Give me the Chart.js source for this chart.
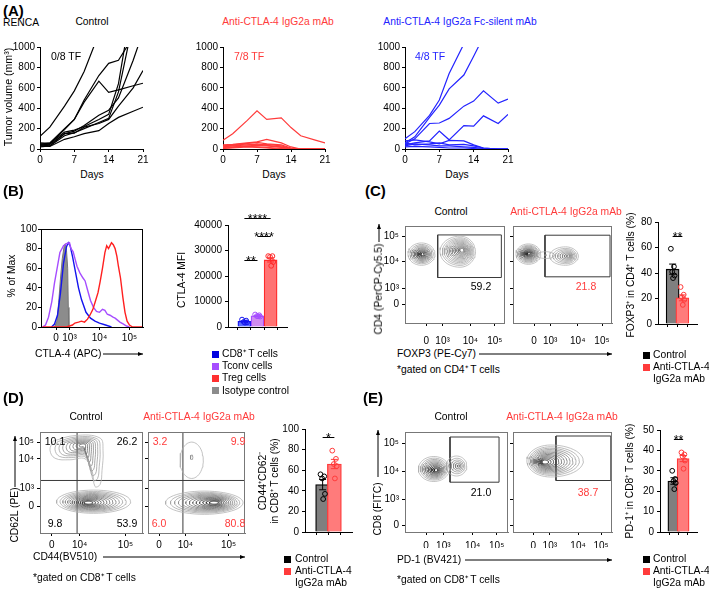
<!DOCTYPE html>
<html><head><meta charset="utf-8">
<script src="https://cdn.jsdelivr.net/npm/chart.js@4.4.1/dist/chart.umd.min.js"></script>
<style>
body{margin:0;background:#fff;}
#root{position:relative;width:709px;height:590px;overflow:hidden;font-family:"Liberation Sans",Arial,sans-serif;color:#000;background:#fff;}
.t{position:absolute;white-space:nowrap;line-height:1;font-size:10.3px;}
.sq{position:absolute;width:7px;height:7px;}
canvas{position:absolute;}
svg{position:absolute;left:0;top:0;}
</style></head><body><div id="root"></div>
<script>
// ---------------- DATA ----------------
// (A) tumour growth, RENCA
const days = [0, 2, 5, 7, 9, 12, 14, 16, 19, 21];
const dayTicks = [0, 7, 14, 21];
const volTicks = [0, 200, 400, 600, 800, 1000];
const ctrlTumor = [
  [125, 215, 420, 570, 760, 1130],
  [35, 50, 190, 290, 480, 720, 840, 870, 1100],
  [45, 60, 200, 290, 460, 665, 555, 580, 620, 645],
  [50, 45, 150, 175, 230, 330, 380, 500, 870, 1150],
  [20, 30, 130, 160, 200, 260, 300, 560, 1250],
  [40, 30, 150, 155, 215, 250, 290, 420, 600, 770],
  [30, 25, 95, 120, 150, 180, 250, 310, 370, 410],
  [60, 55, 165, 185, 220, 290, 340, 640, 1500]
];
const antiTumor = [
  [85, 150, 280, 375, 290, 305, 210, 130, 87, 60],
  [40, 45, 60, 70, 95, 60, 20, 0, 0, 0],
  [30, 40, 55, 65, 50, 40, 10, 0, 0, 0],
  [25, 35, 50, 40, 45, 30, 5, 0, 0, 0],
  [20, 30, 40, 50, 35, 20, 0, 0, 0, 0],
  [15, 20, 30, 35, 30, 15, 0, 0, 0, 0],
  [10, 15, 25, 20, 15, 5, 0, 0, 0, 0],
  [5, 10, 20, 15, 10, 0, 0, 0, 0, 0]
];
const fcsTumor = [
  [100, 170, 330, 480, 740, 1030],
  [60, 120, 310, 430, 590, 725, 910, 1100],
  [50, 100, 250, 255, 300, 420, 470, 570, 450, 490],
  [40, 60, 80, 175, 90, 230, 225, 325, 250, 340],
  [80, 90, 70, 50, 85, 80, 40, 10, 0, 0],
  [60, 40, 50, 60, 40, 45, 30, 10, 0, 0],
  [30, 50, 40, 30, 30, 20, 15, 5, 0, 0],
  [20, 25, 20, 15, 10, 10, 5, 0, 0, 0]
];
const tfText = ['0/8 TF', '7/8 TF', '4/8 TF'];

// (B) CTLA-4 histogram (x in log-decade display units)
const histTicks = [2.55, 3, 4, 5];
const histTickLabels = ['0', '10³', '10⁴', '10⁵'];
const pctTicks = [0, 20, 40, 60, 80, 100];
const isoX = [2.5, 2.58, 2.64, 2.7, 2.76, 2.82, 2.86, 2.9, 2.94, 2.96, 2.98];
const isoY = [0, 6, 25, 50, 70, 82, 85, 78, 60, 20, 0];
const cd8X = [2.4, 2.5, 2.6, 2.7, 2.8, 2.9, 2.96, 3.02, 3.1, 3.2, 3.3, 3.4, 3.55, 3.7, 3.85, 4.0, 4.2, 4.4];
const cd8Y = [0, 3, 12, 35, 65, 82, 86, 83, 72, 56, 40, 28, 15, 9, 6, 4, 2, 0];
const tconvX = [2.1, 2.2, 2.3, 2.41, 2.5, 2.6, 2.68, 2.8, 2.9, 3.0, 3.05, 3.12, 3.18, 3.25, 3.35, 3.45, 3.52, 3.6, 3.7, 3.8, 3.9, 4.0, 4.1, 4.18, 4.26, 4.35, 4.45, 4.52, 4.6, 4.68, 4.8, 4.9, 5.0];
const tconvY = [0, 2, 10, 26, 45, 62, 76, 83, 85, 86, 80, 77, 70, 62, 55, 50, 47, 38, 27, 20, 16, 15, 18, 17, 13, 12, 10, 9, 7, 5, 3, 1, 0];
const tregX = [2.1, 2.9, 3.1, 3.18, 3.3, 3.4, 3.5, 3.6, 3.68, 3.78, 3.85, 3.95, 4.02, 4.1, 4.18, 4.24, 4.3, 4.35, 4.4, 4.46, 4.52, 4.58, 4.63, 4.7, 4.78, 4.85, 4.92, 5.0, 5.1, 5.45];
const tregY = [0, 0, 2, 4, 5, 6, 5, 8, 12, 18, 25, 35, 46, 60, 76, 83, 80, 83, 86, 84, 80, 72, 62, 50, 30, 15, 6, 2, 0, 0];

// (B) CTLA-4 MFI
const mfiCats = ['CD8⁺ T cells', 'Tconv cells', 'Treg cells', 'Isotype control'];
const mfiTicks = [0, 10000, 20000, 30000, 40000];
const mfiMean = [2200, 4400, 26300];
const mfiSem = [250, 160, 800];
const mfiPts = [[2900, 2500, 2000, 1800, 1700], [4900, 4600, 4300, 4100, 4200], [27800, 27800, 27500, 25500, 24000]];

// groups for C/D/E
const groups = ['Control', 'Anti-CTLA-4 IgG2a mAb'];
// (C) FOXP3
const foxp3Ticks = [21.3, 37.6, 65.4, 89.9];
const cd4Ticks = [19, 36, 63.3, 89];
const decLabels = ['0', '10³', '10⁴', '10⁵'];
const foxp3Gates = [[32.7, 96.4, 46.9, 90.8], [32.3, 98, 47.6, 90.5]];
const foxp3GateText = ['59.2', '21.8'];
const foxp3PctTicks = [0, 20, 40, 60, 80];
const foxp3Mean = [43, 20.5];
const foxp3Sem = [4, 2.3];
const foxp3Pts = [[59, 45, 41, 38, 36], [29, 23, 21, 19, 15]];
// (D) CD44 / CD62L
const cd44Ticks = [11.5, 38.5, 83];
const cd44Labels = ['0', '10⁴', '10⁵'];
const cd62Ticks = [26.5, 44, 73.5, 90];
const cd44Quad = [36, 52];
const cd44QuadText = [['10.1', '26.2', '9.8', '53.9'], ['3.2', '9.9', '6.0', '80.8']];
const cd44PctTicks = [0, 20, 40, 60, 80, 100];
const cd44Mean = [46, 66];
const cd44Sem = [5, 4.5];
const cd44Pts = [[56, 54, 52, 37, 32], [79, 71, 66, 64, 52]];
// (E) PD-1
const pd1Ticks = [20.4, 37.2, 65.7, 89];
const cd8Ticks = [7, 32.4, 60.4, 88.8];
const pd1Gates = [[43.7, 91.3, 49.8, 95], [43.4, 98.8, 51.5, 96]];
const pd1GateText = ['21.0', '38.7'];
const pd1PctTicks = [0, 10, 20, 30, 40, 50];
const pd1Mean = [25, 36];
const pd1Sem = [1.6, 1.5];
const pd1Pts = [[30, 26, 25, 24, 21], [39, 38, 37, 35, 31]];

// contour populations (axis channel units 0-100)
const foxp3Pops = [
  [{cx:16.5, cy:71, rx:13.5, ry:11.5, ix:17.5, iy:71, n:10, g1:30},
   {cx:55, cy:73.5, rx:15.5, rxL:20, ry:16, ix:57, iy:75, n:13, g1:110}],
  [{cx:15.5, cy:71, rx:12.5, ry:10.5, ix:16, iy:71.5, n:11, g1:30},
   {cx:33, cy:70, rx:9, ry:3.5, ix:33, iy:70, n:2, g1:150},
   {cx:53, cy:69, rx:13, rxL:16, ry:9.5, ix:56, iy:69, n:8, g1:110}]
];
const cd44UpperOutline = [[12.6, 91], [34, 96.5], [58.3, 94], [61.2, 81.4], [60.2, 61.8], [58.3, 48], [53.4, 46], [50.5, 61.8], [43.7, 73.5], [29, 72.5], [14.6, 74], [9.7, 82]];
const cd44Pops = [
  [{cx:52, cy:31, rx:36, ry:11.5, ix:47, iy:30, n:13, g1:40},
   {poly: cd44UpperOutline, ix:42, iy:87, n:9, g1:80}],
  [{cx:58, cy:30, rx:40, ry:11.5, ix:68, iy:30, n:13, g1:40},
   {cx:45, cy:72, rx:12, ry:18, ix:45, iy:75, n:2, g1:140}]
];
const pd1Pops = [
  [{cx:28, cy:63, rx:15, ry:12.5, ix:30, iy:62, n:11, g1:30},
   {cx:50, cy:66, rx:10, ry:10, ix:52, iy:66, n:6, g1:110}],
  [{cx:38, cy:71, rx:33, rxL:24, ry:16, ix:32, iy:70, n:13, g1:40}]
];

// ---------------- STYLE / HELPERS ----------------
const RED = '#ff3b3b', BLUE = '#2323ff', PURP = '#a64dff', GRAY = '#8c8c8c';
const FF = '"Liberation Sans", Arial, sans-serif';
const TICK = 10;
Chart.defaults.font.family = FF;
Chart.defaults.font.size = TICK;
Chart.defaults.color = '#000';
Chart.defaults.animation = false;
Chart.defaults.events = [];
const root = document.getElementById('root');
const decoMap = new Map();

Chart.register({
  id: 'deco',
  afterDatasetsDraw(chart) {
    const d = decoMap.get(chart.canvas); if (!d) return;
    const ctx = chart.ctx, a = chart.chartArea, xs = chart.scales.x, ys = chart.scales.y;
    ctx.save();
    if (d.frame) {
      ctx.strokeStyle = d.frame; ctx.lineWidth = 1;
      const l = Math.round(a.left) + 0.5, t = Math.round(a.top) + 0.5, r = Math.round(a.right) - 0.5, b = Math.round(a.bottom) + 0.5;
      ctx.strokeRect(l, t, r - l, b - t);
    }
    (d.err || []).forEach(e => {
      const x = xs.getPixelForValue(e.x), y1 = ys.getPixelForValue(e.m - e.s), y2 = ys.getPixelForValue(e.m + e.s);
      ctx.strokeStyle = e.c; ctx.lineWidth = 1;
      ctx.beginPath(); ctx.moveTo(x, y1); ctx.lineTo(x, y2);
      ctx.moveTo(x - 3.5, y2); ctx.lineTo(x + 3.5, y2);
      ctx.moveTo(x - 3.5, y1); ctx.lineTo(x + 3.5, y1); ctx.stroke();
    });
    (d.sig || []).forEach(s => {
      const x1 = xs.getPixelForValue(s.a), x2 = xs.getPixelForValue(s.b), y = Math.round(ys.getPixelForValue(s.y)) + 0.5;
      ctx.strokeStyle = '#000'; ctx.lineWidth = 1;
      ctx.beginPath(); ctx.moveTo(x1, y); ctx.lineTo(x2, y); ctx.stroke();
      ctx.fillStyle = '#000'; ctx.font = '12.5px ' + FF; ctx.textAlign = 'center'; ctx.textBaseline = 'alphabetic';
      ctx.fillText(s.t, (x1 + x2) / 2, y + 4.5);
    });
    ctx.restore();
  }
});

function T(s, x, y, o = {}) {
  const d = document.createElement('div');
  d.className = 't'; d.textContent = s;
  d.style.left = x + 'px'; d.style.top = y + 'px';
  let tr = o.a === 'c' ? 'translate(-50%,-50%)' : o.a === 'r' ? 'translate(-100%,-50%)' : 'translate(0,-50%)';
  if (o.rot) tr = 'translate(-50%,-50%) rotate(-90deg)';
  d.style.transform = tr;
  if (o.c) d.style.color = o.c;
  if (o.s) d.style.fontSize = o.s + 'px';
  if (o.b) d.style.fontWeight = 'bold';
  root.appendChild(d);
}
function SQ(x, y, c) {
  const d = document.createElement('div'); d.className = 'sq';
  d.style.left = x + 'px'; d.style.top = (y - 3.5) + 'px'; d.style.background = c; root.appendChild(d);
}
const NS = 'http://www.w3.org/2000/svg';
const svg = document.createElementNS(NS, 'svg');
svg.setAttribute('width', 709); svg.setAttribute('height', 590);
function arrow(x1, y1, x2, y2) {
  const l = document.createElementNS(NS, 'line');
  l.setAttribute('x1', x1); l.setAttribute('y1', y1); l.setAttribute('x2', x2); l.setAttribute('y2', y2);
  l.setAttribute('stroke', '#000'); l.setAttribute('stroke-width', 1); svg.appendChild(l);
  const p = document.createElementNS(NS, 'polygon');
  const dx = Math.sign(x2 - x1), dy = Math.sign(y2 - y1);
  let pts;
  if (dx) pts = `${x2},${y2} ${x2 - 5 * dx},${y2 - 2} ${x2 - 5 * dx},${y2 + 2}`;
  else pts = `${x2},${y2} ${x2 - 2},${y2 - 5 * dy} ${x2 + 2},${y2 - 5 * dy}`;
  p.setAttribute('points', pts); p.setAttribute('fill', '#000'); svg.appendChild(p);
}

function axis(min, max, ticks, labels, o = {}) {
  return {
    type: 'linear', min, max,
    afterBuildTicks: s => { s.ticks = ticks.map(v => ({ value: v })); },
    ticks: { autoSkip: false, maxRotation: 0, minRotation: 0, color: '#000', padding: o.pad ?? 2,
      font: { family: FF, size: o.fs || TICK },
      callback: (v, i) => (labels ? labels[i] : '') },
    grid: { display: true, drawOnChartArea: false, drawTicks: true, tickLength: o.tl ?? 3, color: o.tc || '#000', lineWidth: 1 },
    border: { display: true, color: o.bc || '#000', width: 1 }
  };
}

function mk(box, pad, config, deco) {
  const [x, y, w, h] = box;
  const W = pad[0] + w + pad[2], H = pad[1] + h + pad[3];
  const c = document.createElement('canvas');
  c.width = W; c.height = H;
  c.style.left = (x - pad[0]) + 'px'; c.style.top = (y - pad[1]) + 'px';
  c.style.width = W + 'px'; c.style.height = H + 'px';
  root.appendChild(c);
  if (deco) decoMap.set(c, deco);
  const o = config.options;
  o.responsive = false; o.maintainAspectRatio = false; o.animation = false;
  o.layout = { padding: { left: 0, top: pad[1], right: pad[2], bottom: 0 } };
  o.scales.x.afterFit = s => { s.height = pad[3]; };
  o.scales.y.afterFit = s => { s.width = pad[0]; };
  o.plugins = { legend: { display: false }, tooltip: { enabled: false } };
  return new Chart(c, config);
}

// ---------------- (A) ----------------
function growth(box, series, color) {
  const ds = series.map(v => ({
    data: v.map((y, i) => ({ x: days[i], y })),
    showLine: true, borderColor: color, borderWidth: 1.2, pointRadius: 0, tension: 0
  }));
  mk(box, [34, 8, 10, 16], {
    type: 'scatter', data: { datasets: ds },
    options: { scales: {
      x: axis(0, 21, dayTicks, dayTicks.map(String), { tl: 3, pad: 2 }),
      y: axis(0, 1000, volTicks, volTicks.map(String), { tl: 3, pad: 2 })
    } }
  });
}
growth([40, 47, 103, 102], ctrlTumor, '#000');
growth([223, 47, 102, 102], antiTumor, RED);
growth([405, 47, 103, 102], fcsTumor, BLUE);

T('(A)', 3, 10, { b: 1, s: 15 });
T('RENCA', 3, 23);
T('Control', 92, 22, { a: 'c' });
T('Anti-CTLA-4 IgG2a mAb', 278, 22, { a: 'c', c: RED });
T('Anti-CTLA-4 IgG2a Fc-silent mAb', 460, 22, { a: 'c', c: BLUE });
T(tfText[0], 51, 56, { s: 10.5 });
T(tfText[1], 234, 56, { s: 10.5, c: RED });
T(tfText[2], 415, 56, { s: 10.5, c: BLUE });
T('Days', 92, 175, { a: 'c' });
T('Days', 274, 175, { a: 'c' });
T('Days', 457, 175, { a: 'c' });
T('Tumor volume (mm³)', 8, 97, { rot: 1, s: 10.6 });

// ---------------- (B) histogram ----------------
const hist = (xs, ys) => xs.map((x, i) => ({ x, y: ys[i] }));
mk([41, 229, 102, 98], [30, 8, 10, 16], {
  type: 'scatter',
  data: { datasets: [
    { data: hist(tregX, tregY), showLine: true, borderColor: '#ff2020', borderWidth: 1.4, pointRadius: 0, order: 0 },
    { data: hist(tconvX, tconvY), showLine: true, borderColor: PURP, borderWidth: 1.4, pointRadius: 0, order: 1 },
    { data: hist(cd8X, cd8Y), showLine: true, borderColor: '#1414ee', borderWidth: 1.4, pointRadius: 0, order: 2 },
    { data: hist(isoX, isoY), showLine: true, borderColor: '#777', backgroundColor: GRAY, fill: 'origin', borderWidth: 1, pointRadius: 0, order: 3 }
  ] },
  options: { scales: {
    x: axis(2.05, 5.45, histTicks, histTickLabels, { pad: 2 }),
    y: axis(0, 100, pctTicks, pctTicks.map(String), { pad: 1 })
  } }
}, { frame: '#000' });
T('(B)', 3, 190, { b: 1, s: 15 });
T('% of Max', 12, 276, { rot: 1 });
T('CTLA-4 (APC)', 35, 354);
arrow(103, 354, 143, 354);

// ---------------- bar helper ----------------
const jit = [-0.2, 0.15, -0.05, 0.22, 0.05];
function barChart(box, pad, means, sems, pts, yT, fills, borders, sig, barW, ymax) {
  const n = means.length;
  const ds = [{
    type: 'bar', data: means.map((m, i) => ({ x: i, y: m })),
    backgroundColor: fills, borderColor: borders, borderWidth: 1.3, barThickness: barW, order: 2
  }];
  pts.forEach((p, i) => ds.push({
    type: 'scatter', data: p.map((v, j) => ({ x: i + jit[j] * 0.9, y: v })),
    pointRadius: 2.4, pointBorderWidth: 1, pointBorderColor: borders[i], pointBackgroundColor: 'rgba(0,0,0,0)', order: 0
  }));
  mk(box, pad, {
    type: 'bar', data: { datasets: ds },
    options: { scales: {
      x: axis(-0.5, n - 0.5, means.map((m, i) => i), null, { tl: 3 }),
      y: axis(0, ymax, yT, yT.map(String), { pad: 3 })
    } }
  }, { err: means.map((m, i) => ({ x: i, m, s: sems[i], c: borders[i] })), sig });
}

barChart([228, 225, 59, 103], [45, 24, 8, 8], mfiMean, mfiSem, mfiPts, mfiTicks,
  ['#5a6cff', '#d08cf0', '#ff7373'], ['#1414ee', PURP, '#ff2a2a'],
  [{ a: 0, b: 1, y: 26100, t: '**' }, { a: 1, b: 2, y: 35600, t: '****' }, { a: 0, b: 2, y: 42700, t: '****' }], 13, 40000);
T('CTLA-4 MFI', 182, 280, { rot: 1 });
[['#0000e0', mfiCats[0]], [PURP, mfiCats[1]], ['#ff3030', mfiCats[2]], [GRAY, mfiCats[3]]].forEach((e, i) => {
  SQ(212, 354 + i * 12.2, e[0]); T(e[1], 222, 354 + i * 12.2);
});

// ---------------- flow helpers ----------------
function contours(pop) {
  const sets = [];
  for (let k = 0; k < pop.n; k++) {
    const t = pop.n > 1 ? k / (pop.n - 1) : 0;
    const s = 1 - 0.88 * Math.pow(t, 0.85);
    const pts = [];
    if (pop.poly) {
      pop.poly.forEach(p => pts.push({ x: pop.ix + (p[0] - pop.ix) * s, y: pop.iy + (p[1] - pop.iy) * s }));
      pts.push(pts[0]);
    } else {
      const cx = pop.cx + (pop.ix - pop.cx) * t, cy = pop.cy + (pop.iy - pop.cy) * t;
      for (let j = 0; j <= 48; j++) {
        const a = j / 48 * 2 * Math.PI, c = Math.cos(a);
        const rx = c < 0 ? (pop.rxL || pop.rx) : pop.rx;
        pts.push({ x: cx + rx * s * c, y: cy + pop.ry * s * Math.sin(a) });
      }
    }
    const g = Math.round(175 - (175 - pop.g1) * t);
    sets.push({ data: pts, showLine: true, borderColor: `rgb(${g},${g},${g})`, borderWidth: 0.75, pointRadius: 0, tension: pop.poly ? 0.4 : 0 });
  }
  return sets;
}
function flow(box, pad, pops, xT, xL, yT, yL, gate, quad, xpad) {
  let ds = [];
  pops.forEach(p => { ds = ds.concat(contours(p)); });
  const ln = d => ({ data: d, showLine: true, borderColor: '#3a3a3a', borderWidth: 1, pointRadius: 0, tension: 0 });
  if (gate) {
    const [x1, x2, y1, y2] = gate;
    ds.push(ln([{ x: x1, y: y1 }, { x: x2, y: y1 }, { x: x2, y: y2 }, { x: x1, y: y2 }, { x: x1, y: y1 }]));
  }
  if (quad) {
    ds.push(ln([{ x: quad[0], y: 0 }, { x: quad[0], y: 100 }]));
    ds.push(ln([{ x: 0, y: quad[1] }, { x: 100, y: quad[1] }]));
  }
  mk(box, pad, {
    type: 'scatter', data: { datasets: ds },
    options: { scales: {
      x: axis(0, 100, xT, xL, { pad: xpad, bc: '#777' }),
      y: axis(0, 100, yT, yL, { pad: 3, bc: '#777' })
    } }
  }, { frame: '#777' });
}

// ---------------- (C) ----------------
flow([405, 225, 102, 98], [30, 8, 5, 24], foxp3Pops[0], foxp3Ticks, decLabels, cd4Ticks, decLabels, foxp3Gates[0], null, 9);
flow([513, 225, 99, 98], [5, 8, 8, 24], foxp3Pops[1], foxp3Ticks, decLabels, cd4Ticks, null, foxp3Gates[1], null, 9);
T('(C)', 365, 190, { b: 1, s: 15 });
T(groups[0], 451, 212, { a: 'c' });
T(groups[1], 566, 212, { a: 'c', c: RED });
T(foxp3GateText[0], 481, 286, { a: 'c', s: 10.5 });
T(foxp3GateText[1], 586, 286, { a: 'c', s: 10.5, c: RED });
T('CD4 (PerCP-Cy5.5)', 379, 289, { rot: 1 });
arrow(379, 242, 379, 224);
T('FOXP3 (PE-Cy7)', 397, 354);
arrow(479, 354, 612, 354);
T('*gated on CD4⁺ T cells', 397, 370);
barChart([658, 222, 39, 103], [24, 16, 8, 8], foxp3Mean, foxp3Sem, foxp3Pts, foxp3PctTicks,
  ['#7f7f7f', '#ff7b7b'], ['#000', RED], [{ a: 0, b: 1, y: 69.3, t: '**' }], 13, 80);
T('FOXP3⁺ in CD4⁺ T cells (%)', 631, 275, { rot: 1 });
SQ(643, 355, '#000'); T(groups[0], 653, 355);
SQ(643, 367, RED); T('Anti-CTLA-4', 653, 367); T('IgG2a mAb', 653, 379);

// ---------------- (D) ----------------
flow([40, 431, 103, 102], [30, 8, 5, 16], cd44Pops[0], cd44Ticks, cd44Labels, cd62Ticks, decLabels, null, cd44Quad, 3);
flow([148, 431, 97, 102], [5, 8, 8, 16], cd44Pops[1], cd44Ticks, cd44Labels, cd62Ticks, null, null, cd44Quad, 3);
T('(D)', 3, 397, { b: 1, s: 15 });
T(groups[0], 86, 417, { a: 'c' });
T(groups[1], 199, 417, { a: 'c', c: RED });
const qx = [[55, 127, 55, 127], [160, 238, 159, 235]], qy = [441, 441, 523, 523];
cd44QuadText.forEach((g, k) => g.forEach((s, i) => T(s, qx[k][i], qy[i], { a: 'c', s: 10.5, c: k ? RED : '#000' })));
T('CD62L (PE)', 15, 515, { rot: 1 });
arrow(15, 487, 15, 436);
T('CD44(BV510)', 33, 557);
arrow(103, 557, 245, 557);
T('*gated on CD8⁺ T cells', 33, 578);
barChart([305, 429, 47, 104], [24, 10, 8, 8], cd44Mean, cd44Sem, cd44Pts, cd44PctTicks,
  ['#7f7f7f', '#ff7b7b'], ['#000', RED], [{ a: 0, b: 1, y: 92.7, t: '*' }], 14, 100);
T('CD44⁺CD62⁻', 263, 481, { rot: 1 });
T('in CD8⁺ T cells (%)', 275, 481, { rot: 1 });
SQ(284, 559, '#000'); T(groups[0], 295, 559);
SQ(284, 571, RED); T('Anti-CTLA-4', 295, 571); T('IgG2a mAb', 295, 583);

// ---------------- (E) ----------------
flow([405, 431, 103, 101], [30, 8, 5, 16], pd1Pops[0], pd1Ticks, decLabels, cd8Ticks, decLabels, pd1Gates[0], null, 5);
flow([513, 431, 99, 101], [5, 8, 8, 16], pd1Pops[1], pd1Ticks, decLabels, cd8Ticks, null, pd1Gates[1], null, 5);
T('(E)', 363, 397, { b: 1, s: 15 });
T(groups[0], 451, 417, { a: 'c' });
T(groups[1], 562, 417, { a: 'c', c: RED });
T(pd1GateText[0], 481, 492, { a: 'c', s: 10.5 });
T(pd1GateText[1], 588, 492, { a: 'c', s: 10.5, c: RED });
T('CD8 (FITC)', 378, 509, { rot: 1 });
arrow(378, 477, 378, 430);
T('PD-1 (BV421)', 397, 560);
arrow(465, 560, 612, 560);
T('*gated on CD8⁺ T cells', 397, 580);
barChart([660, 430, 37, 103], [24, 10, 8, 8], pd1Mean, pd1Sem, pd1Pts, pd1PctTicks,
  ['#7f7f7f', '#ff7b7b'], ['#000', RED], [{ a: 0, b: 1, y: 45.4, t: '**' }], 12, 50);
T('PD-1⁺ in CD8⁺ T cells (%)', 630, 481, { rot: 1 });
SQ(643, 559, '#000'); T(groups[0], 653, 559);
SQ(643, 571, RED); T('Anti-CTLA-4', 653, 571); T('IgG2a mAb', 653, 583);

root.appendChild(svg);
</script></body></html>
